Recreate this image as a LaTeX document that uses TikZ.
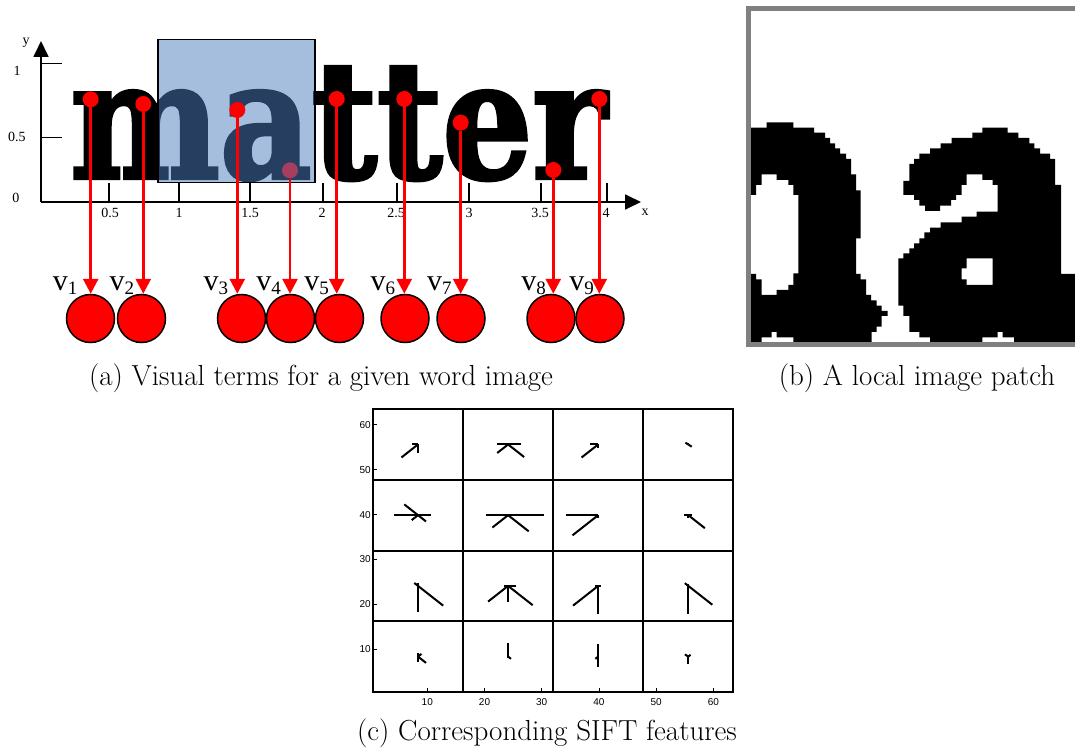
\documentclass[tikz,border=0pt]{standalone}
\usepackage{fontspec}
\usepackage{graphicx}
\usetikzlibrary{arrows.meta}
\newfontfamily\timesf{Liberation Serif}
\newfontfamily\wordf[BoldFeatures={FakeBold=2.5}]{DejaVu Serif}
\newfontfamily\sansf{Liberation Sans}
\definecolor{boxblue}{RGB}{77,125,190}
\definecolor{framegray}{RGB}{128,128,128}
\begin{document}
\begin{tikzpicture}[x=1pt,y=-1pt,
  axisline/.style={line width=1.8pt,-{Triangle[width=15pt,length=16pt]}},
  tickline/.style={line width=1.6pt},
  ticklab/.style={font=\timesf\fontsize{14}{14}\selectfont,inner sep=0pt},
  dot/.style={circle,fill=red,minimum size=16pt,inner sep=0pt},
  term/.style={circle,fill=red,draw=black,line width=1.5pt,minimum size=48pt,inner sep=0pt},
  vlab/.style={font=\timesf\fontsize{30}{30}\selectfont,inner sep=0pt,anchor=base east},
  link/.style={red,line width=2.7pt,-{Triangle[width=15pt,length=15pt]}},
  gridline/.style={line width=2pt},
  hog/.style={line width=2pt},
  plotlab/.style={font=\sansf\fontsize{10}{10}\selectfont,inner sep=0pt},
  capt/.style={font=\fontsize{29}{32}\selectfont,inner sep=0pt,anchor=base}
]
\useasboundingbox (0,0) rectangle (1075,749);

% ---------------- panel (a) ----------------
\node[anchor=base west,inner sep=0pt] (word) at (70,178)
  {\resizebox{536pt}{111pt}{\wordf\bfseries matter}};

% axes
\coordinate (O) at (41,202);
\coordinate (yend) at (41,41);
\coordinate (xend) at (641,202);
\draw[axisline] (O) -- (yend);
\draw[axisline] (O) -- (xend);
\draw[tickline] (41,63.7) -- (62,63.7);
\draw[tickline] (41,137.3) -- (62,137.3);
\foreach \xx in {109,179,250,322.7,397,469,540.7,606.7}
  \draw[tickline] (\xx,183) -- (\xx,202);
\node[ticklab] (ly1) at (17,71) {1};
\node[ticklab] (ly05) at (17,137) {0.5};
\node[ticklab] (ly0) at (16,198) {0};
\node[ticklab] (ylab) at (26,43) {y};
\node[ticklab] (xlab) at (645,212) {x};
\foreach \xx/\tl in {110/0.5,179/1,250/1.5,322/2,396/2.5,469/3,540/3.5,606/4}
  \node[ticklab] at (\xx,213) {\tl};

% dot under the translucent box
\node[dot] (d4) at (290,170.3) {};
\fill[boxblue,opacity=0.5] (158,39.3) rectangle (315,182.3);
\draw[line width=1.5pt] (158,39.3) rectangle (315,182.3);

\node[dot] (d1) at (90.7,99.3) {};
\node[dot] (d2) at (143.3,104) {};
\node[dot] (d3) at (237.3,110) {};
\node[dot] (d5) at (336.7,99) {};
\node[dot] (d6) at (404.3,99) {};
\node[dot] (d7) at (460.7,122.7) {};
\node[dot] (d8) at (553.3,170) {};
\node[dot] (d9) at (599.3,99) {};

\node[term] (c1) at (90.5,318.5) {};
\node[term] (c2) at (141.5,318.5) {};
\node[term] (c3) at (241.5,318.5) {};
\node[term] (c4) at (290.5,318.5) {};
\node[term] (c5) at (339.5,318.5) {};
\node[term] (c6) at (405,318.5) {};
\node[term] (c7) at (461,318.5) {};
\node[term] (c8) at (551,318.5) {};
\node[term] (c9) at (600,318.5) {};

\foreach \i in {1,...,9}
  \draw[link] (d\i) -- (d\i |- c\i.north);

\newcommand{\vsub}[1]{v\raisebox{-4pt}{\fontsize{19}{19}\selectfont #1}}
\node[vlab] (l1) at (77.5,290) {\vsub{1}};
\node[vlab] (l2) at (134.3,290) {\vsub{2}};
\node[vlab] (l3) at (228.3,290) {\vsub{3}};
\node[vlab] (l4) at (281,290) {\vsub{4}};
\node[vlab] (l5) at (329,290) {\vsub{5}};
\node[vlab] (l6) at (395.3,290) {\vsub{6}};
\node[vlab] (l7) at (451.7,290) {\vsub{7}};
\node[vlab] (l8) at (546,290) {\vsub{8}};
\node[vlab] (l9) at (594,290) {\vsub{9}};

\node[capt] (capa) at (321,385) {(a) Visual terms for a given word image};

% ---------------- panel (b) ----------------
\begin{scope}
\clip (0,0) rectangle (1075,749);
\begin{scope}[shift={(740,0)},x=0.333333pt,y=-0.333333pt]
\fill[black,even odd rule]
 (25,383) -- (80,383) -- (80,367) -- (160,367) -- (160,383) -- (222,383) -- (222,398) -- (255,398) -- (255,414) -- (270,414) -- (270,430) -- (285,430) -- (285,445) -- (300,445) -- (300,461) -- (318,461) -- (318,477) -- (333,477) -- (333,523) -- (348,523) -- (348,571) -- (362,571) -- (362,715) -- (348,715) -- (348,822) -- (362,822) -- (362,838) -- (378,838) -- (378,885) -- (393,885) -- (393,901) -- (410,901) -- (410,917) -- (425,917) -- (425,933) -- (443,933) -- (443,948) -- (425,948) -- (425,980) -- (410,980) -- (410,996) -- (395,996) -- (395,1030) -- (160,1030) -- (160,1012) -- (110,1012) -- (110,996) -- (95,996) -- (95,1012) -- (65,1012) -- (65,1030) -- (25,1030) -- cycle
 (25,585) -- (48,585) -- (48,555) -- (65,555) -- (65,523) -- (110,523) -- (110,540) -- (145,540) -- (145,555) -- (160,555) -- (160,585) -- (175,585) -- (175,820) -- (160,820) -- (160,855) -- (145,855) -- (145,870) -- (110,870) -- (110,885) -- (65,885) -- (65,838) -- (48,838) -- (48,822) -- (25,822) -- cycle;
\fill[black,even odd rule]
 (490,543) -- (508,543) -- (508,492) -- (522,492) -- (522,477) -- (538,477) -- (538,461) -- (570,461) -- (570,445) -- (602,445) -- (602,430) -- (635,430) -- (635,414) -- (697,414) -- (697,398) -- (727,398) -- (727,383) -- (803,383) -- (803,398) -- (835,398) -- (835,414) -- (868,414) -- (868,430) -- (883,430) -- (883,445) -- (900,445) -- (900,461) -- (930,461) -- (930,477) -- (945,477) -- (945,555) -- (963,555) -- (963,822) -- (1030,822) -- (1030,1030) -- (822,1030) -- (822,1012) -- (788,1012) -- (788,996) -- (773,996) -- (773,1012) -- (727,1012) -- (727,1030) -- (570,1030) -- (570,1012) -- (538,1012) -- (538,996) -- (508,996) -- (508,948) -- (490,948) -- (490,917) -- (475,917) -- (475,775) -- (490,775) -- (490,760) -- (508,760) -- (508,745) -- (522,745) -- (522,730) -- (538,730) -- (538,715) -- (553,715) -- (553,697) -- (570,697) -- (570,683) -- (602,683) -- (602,667) -- (665,667) -- (665,650) -- (710,650) -- (710,635) -- (773,635) -- (773,555) -- (758,555) -- (758,540) -- (727,540) -- (727,523) -- (680,523) -- (680,555) -- (665,555) -- (665,585) -- (648,585) -- (648,600) -- (633,600) -- (633,617) -- (600,617) -- (600,633) -- (555,633) -- (555,617) -- (538,617) -- (538,600) -- (522,600) -- (522,585) -- (490,585) -- cycle
 (680,775) -- (758,775) -- (758,855) -- (680,855) -- (680,838) -- (665,838) -- (665,805) -- (680,805) -- cycle;
\end{scope}
\draw[framegray,line width=5pt] (748.3,8.3) rectangle (1090,344.8);
\end{scope}

\node[capt] (capb) at (917,385.5) {(b) A local image patch};

% ---------------- panel (c) ----------------
\begin{scope}[shift={(370.1,694.2)},x=5.72pt,y=4.49pt]
\draw[gridline] (0.5,0.5) rectangle (63.5,63.5);
\foreach \g in {16.25,32,47.75} {
  \draw[gridline] (\g,0.5) -- (\g,63.5);
  \draw[gridline] (0.5,\g) -- (63.5,\g);
}
\foreach \t in {10,20,...,60} {
  \draw[line width=0.8pt] (\t,0.5) -- (\t,1.4);
  \draw[line width=0.8pt] (0.5,\t) -- (1.2,\t);
  \node[plotlab,anchor=north] at (\t,0.5) [yshift=-6pt] {\t};
  \node[plotlab,anchor=east] at (0.5,\t) [xshift=-2pt] {\t};
}
% row 1
\foreach \dx/\dy in {-2.9/-2.9,0/-1.9,-1.0/0}
  \draw[hog] (8.375,55.625) -- ++(\dx,\dy);
\foreach \dx/\dy in {-2.0/0,2.3/0,-1.9/-1.9,2.8/-2.8}
  \draw[hog] (24.125,55.625) -- ++(\dx,\dy);
\foreach \dx/\dy in {-2.9/-2.9,-1.5/0,0/-0.8}
  \draw[hog] (39.875,55.625) -- ++(\dx,\dy);
\foreach \dx/\dy in {-0.5/0.4,0.6/-0.5,0/0.3}
  \draw[hog] (55.625,55.625) -- ++(\dx,\dy);
% row 2
\foreach \dx/\dy in {-4.2/0,2.2/0,-2.4/2.4,1.4/-1.4,-1.1/-1.1}
  \draw[hog] (8.375,39.875) -- ++(\dx,\dy);
\foreach \dx/\dy in {-3.9/0,6.3/0,-2.75/-2.75,3.6/-3.6}
  \draw[hog] (24.125,39.875) -- ++(\dx,\dy);
\foreach \dx/\dy in {-5.7/0,-4.5/-4.5,0/-0.6}
  \draw[hog] (39.875,39.875) -- ++(\dx,\dy);
\foreach \dx/\dy in {-0.8/0,0.6/0,2.9/-2.9,0/-0.6}
  \draw[hog] (55.625,39.875) -- ++(\dx,\dy);
% row 3
\foreach \dx/\dy in {0/-5.8,4.4/-4.4,-0.65/0.65,0/0.7}
  \draw[hog] (8.375,24.125) -- ++(\dx,\dy);
\foreach \dx/\dy in {0/-3.6,-3.5/-3.5,4.3/-4.3,-0.75/0,1.45/0}
  \draw[hog] (24.125,24.125) -- ++(\dx,\dy);
\foreach \dx/\dy in {0/-6.2,-4.4/-4.4,-0.6/0,0.5/0,0/0.3}
  \draw[hog] (39.875,24.125) -- ++(\dx,\dy);
\foreach \dx/\dy in {0/-6.2,4.2/-4.2,-0.6/0.6,0/0.5}
  \draw[hog] (55.625,24.125) -- ++(\dx,\dy);
% row 4
\foreach \dx/\dy in {0/0.7,0/-1.3,0.6/0.6,1.4/-1.4}
  \draw[hog] (8.375,8.375) -- ++(\dx,\dy);
\foreach \dx/\dy in {0/3.0,0/-0.3,0.5/-0.5}
  \draw[hog] (24.125,8.375) -- ++(\dx,\dy);
\foreach \dx/\dy in {0/2.75,0/-2.4,-0.5/-0.5}
  \draw[hog] (39.875,8.375) -- ++(\dx,\dy);
\foreach \dx/\dy in {0/-1.6,-0.6/0.5,0.4/0.4}
  \draw[hog] (55.625,8.375) -- ++(\dx,\dy);
\end{scope}

\node[capt] (capc) at (547,740) {(c) Corresponding SIFT features};
\end{tikzpicture}
\end{document}
